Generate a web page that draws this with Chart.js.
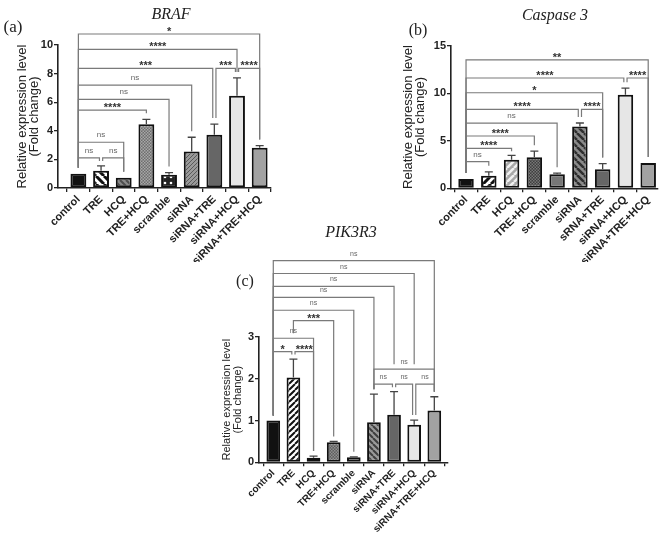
<!DOCTYPE html>
<html><head><meta charset="utf-8">
<script src="https://cdn.jsdelivr.net/npm/chart.js@4.4.1/dist/chart.umd.min.js"></script>
<style>
html,body{margin:0;padding:0;background:#fff;}
#wrap{position:relative;width:669px;height:542px;overflow:hidden;background:#fff;}
canvas{position:absolute;}
.t{position:absolute;font-family:"Liberation Serif","Times New Roman",serif;color:#222;white-space:nowrap;transform:translate(-50%,-50%);line-height:1;}
.i{font-style:italic;}
</style></head><body>
<div id="wrap">
<canvas id="ca" width="285" height="262" style="left:0px;top:0px"></canvas>
<canvas id="cb" width="274" height="262" style="left:395px;top:0px"></canvas>
<canvas id="cc" width="255" height="302" style="left:205px;top:240px"></canvas>
<div class="t" style="left:13px;top:26px;font-size:17px">(a)</div>
<div class="t i" style="left:171px;top:14px;font-size:16px">BRAF</div>
<div class="t" style="left:418px;top:30px;font-size:16px">(b)</div>
<div class="t i" style="left:555px;top:15px;font-size:16px">Caspase 3</div>
<div class="t i" style="left:351px;top:232px;font-size:16px">PIK3R3</div>
<div class="t" style="left:245px;top:281px;font-size:16px">(c)</div>
</div>
<script>
// ---------- data ----------
const categories  = ['control','TRE','HCQ','TRE+HCQ','scramble','siRNA','siRNA+TRE','siRNA+HCQ','siRNA+TRE+HCQ'];
const categoriesB = ['control','TRE','HCQ','TRE+HCQ','scramble','siRNA','sRNA+TRE','siRNA+HCQ','siRNA+TRE+HCQ'];

const brafMean = [1.0, 1.2, 0.72, 4.45, 0.93, 2.55, 3.72, 6.45, 2.82];
const brafErr  = [0, 0.35, 0, 0.35, 0.15, 1.0, 0.75, 1.25, 0.15];
const brafTicks = [0, 2, 4, 6, 8, 10];

const caspMean = [0.97, 1.31, 3.0, 3.26, 1.49, 6.5, 2.0, 9.85, 2.67];
const caspErr  = [0, 0.42, 0.47, 0.64, 0.1, 0.37, 0.6, 0.68, 0];
const caspTicks = [0, 5, 10, 15];

const pikMean = [1.0, 2.03, 0.11, 0.48, 0.12, 0.96, 1.14, 0.9, 1.24];
const pikErr  = [0, 0.44, 0.04, 0.02, 0.01, 0.67, 0.55, 0.11, 0.33];
const pikTicks = [0, 1, 2, 3];

// comparisons: [from, to, bracket height (data units), label]
const brafSig = [[0,1,2.1,'ns'],[1,2,2.1,'ns'],[0,2,3.2,'ns'],[0,3,5.45,'****'],[0,4,6.2,'ns'],[0,5,7.2,'ns'],
  [0,6,8.37,'***'],[6,7,8.37,'***'],[7,8,8.37,'****'],[0,7,9.7,'****'],[0,8,10.77,'*']];
const caspSig = [[0,1,2.8,'ns'],[0,2,4.2,'****'],[0,3,5.5,'****'],[0,4,6.85,'ns'],[0,5,8.3,'****'],[5,6,8.3,'****'],
  [0,6,10.05,'*'],[0,7,11.6,'****'],[7,8,11.6,'****'],[0,8,13.5,'**']];
const pikSig = [[0,1,2.65,'*'],[1,2,2.65,'****'],[0,2,2.97,'ns'],[1,3,3.39,'***'],[0,4,3.64,'ns'],[0,5,3.95,'ns'],
  [0,6,4.21,'ns'],[0,7,4.52,'ns'],[0,8,4.83,'ns'],[5,6,1.87,'ns'],[6,7,1.87,'ns'],[7,8,1.87,'ns'],[5,8,2.23,'ns']];

// ---------- styles ----------
const SANS = '"Liberation Sans", Arial, sans-serif';
function pat(bg, fg, kind, size, lw){
  const c=document.createElement('canvas'); c.width=c.height=size; const g=c.getContext('2d');
  g.fillStyle=bg; g.fillRect(0,0,size,size);
  g.strokeStyle=fg; g.fillStyle=fg; g.lineWidth=lw;
  if(kind==='/'){ g.beginPath(); for(const o of [-size,0,size]){ g.moveTo(o,size); g.lineTo(o+size,0);} g.stroke(); }
  else if(kind==='\\'){ g.beginPath(); for(const o of [-size,0,size]){ g.moveTo(o,0); g.lineTo(o+size,size);} g.stroke(); }
  else if(kind==='check'){ const h=size/2; g.fillRect(0,0,h,h); g.fillRect(h,h,h,h); }
  else if(kind==='dots'){ g.beginPath(); g.arc(size/2,size/2,lw,0,Math.PI*2); g.fill(); }
  return g.createPattern(c,'repeat');
}
const fillsA = ['#111', pat('#fff','#111','\\',8,3), pat('#8a8a8a','#4e4e4e','\\',6,2), pat('#6e6e6e','#a8a8a8','check',3,0),
  pat('#222','#fff','dots',6,1.3), pat('#9a9a9a','#5a5a5a','/',4,1), '#666', '#e6e6e6', '#a2a2a2'];
const fillsB = ['#111', pat('#fff','#111','/',8,3), pat('#a8a8a8','#f0f0f0','/',7,2.5), pat('#3e3e3e','#777','check',3,0),
  '#777', pat('#8a8a8a','#2e2e2e','\\',7,2.5), '#666', '#e6e6e6', '#a2a2a2'];
const fillsC = ['#111', pat('#fff','#111','/',6,2), '#999', pat('#5e5e5e','#8e8e8e','check',3,0),
  '#666', pat('#9a9a9a','#3e3e3e','\\',6,2), '#666', '#e6e6e6', '#a2a2a2'];

function overlay(mean, err, sig, o){
  return { id:'overlay', afterDatasetsDraw(chart){
    const xs=chart.scales.x, ys=chart.scales.y, ctx=chart.ctx;
    ctx.save();
    // error bars (upper only)
    ctx.strokeStyle='#444'; ctx.lineWidth=1.3;
    mean.forEach((m,i)=>{
      if(!err[i]) return;
      const x=xs.getPixelForValue(i), y0=ys.getPixelForValue(m), y1=ys.getPixelForValue(m+err[i]);
      ctx.beginPath(); ctx.moveTo(x,y0); ctx.lineTo(x,y1); ctx.moveTo(x-4,y1); ctx.lineTo(x+4,y1); ctx.stroke();
    });
    // significance brackets
    ctx.strokeStyle='#7a7a7a'; ctx.lineWidth=1.2;
    sig.forEach(([i,j,h,lab],k)=>{
      const same = sig.filter((b,m)=>m!==k && Math.abs(b[2]-h)<1e-6);
      const sl = same.some(b=>b[1]===i) ? 1.6 : 0;
      const sr = same.some(b=>b[0]===j) ? 1.6 : 0;
      const x1=xs.getPixelForValue(i)+sl, x2=xs.getPixelForValue(j)-sr, y=ys.getPixelForValue(h);
      const leg = idx => {
        let b0 = ys.getPixelForValue(mean[idx]+err[idx]) - o.gap;
        sig.forEach(b=>{ if(b[2]<h && b[0]<idx && idx<b[1]) b0=Math.min(b0, ys.getPixelForValue(b[2])-o.gap); });
        return Math.max(b0, y+3);
      };
      ctx.beginPath(); ctx.moveTo(x1,leg(i)); ctx.lineTo(x1,y); ctx.lineTo(x2,y); ctx.lineTo(x2,leg(j)); ctx.stroke();
      const star = lab!=='ns';
      ctx.textAlign='center'; ctx.textBaseline='alphabetic';
      ctx.fillStyle = star ? '#333' : '#666';
      ctx.font = star ? 'bold 11px '+SANS : o.nsSize+'px '+SANS;
      ctx.fillText(lab, (x1+x2)/2, star ? y+1 : y-5);
    });
    ctx.restore();
  }};
}

function make(id, labels, mean, err, sig, fills, ticks, o){
  const n = labels.length;
  new Chart(document.getElementById(id), {
    type:'bar',
    data:{ datasets:[{ data: mean.map((v,i)=>({x:i,y:v})), backgroundColor: fills, borderColor:'#111',
      borderWidth:2, borderSkipped:false, barPercentage:o.barPct, categoryPercentage:1 }]},
    options:{
      responsive:false, animation:false, devicePixelRatio:1,
      layout:{ padding:{ top:o.padTop, right:o.padRight, left:0, bottom:0 } },
      plugins:{ legend:{display:false}, title:{display:false}, tooltip:{enabled:false} },
      scales:{
        x:{ type:'linear', min:o.xmin, max:o.xmax, offset:false,
          afterBuildTicks: s => { s.ticks = labels.map((c,i)=>({value:i})); },
          afterFit: s => { s.height = o.xh; },
          ticks:{ autoSkip:false, minRotation:45, maxRotation:45, padding:1, color:'#222',
            font:{ family:SANS, size:o.xfont, weight:'bold' }, callback: v => labels[v] },
          grid:{ display:true, drawOnChartArea:false, tickLength:4, color:'#222', lineWidth:1.3 },
          border:{ display:true, color:'#222', width:1.6 } },
        y:{ min:0, max:ticks[ticks.length-1],
          afterBuildTicks: s => { s.ticks = ticks.map(v=>({value:v})); },
          afterFit: s => { s.width = o.yw; },
          ticks:{ padding:1, color:'#222', font:{ family:SANS, size:o.yfont, weight:'bold' } },
          grid:{ display:true, drawOnChartArea:false, tickLength:4, color:'#222', lineWidth:1.3 },
          border:{ display:true, color:'#222', width:1.6 },
          title:{ display:true, text:['Relative expression level','(Fold change)'], color:'#222',
            font:{ family:SANS, size:o.tfont, lineHeight:o.tlh }, padding:{ top:o.tpad, bottom:0 } } }
      }
    },
    plugins:[ overlay(mean, err, sig, o) ]
  });
}

make('ca', categories, brafMean, brafErr, brafSig, fillsA, brafTicks,
  { padTop:45, padRight:14, xmin:-0.9, xmax:8.5, xh:74, yw:58, barPct:0.7, xfont:11, yfont:11, tfont:13, tlh:0.92, tpad:16, gap:6, nsSize:8 });
make('cb', categoriesB, caspMean, caspErr, caspSig, fillsB, caspTicks,
  { padTop:45.7, padRight:11, xmin:-0.66, xmax:8.43, xh:73.7, yw:56, barPct:0.68, xfont:11, yfont:11, tfont:13, tlh:0.92, tpad:7, gap:6, nsSize:8 });
make('cc', categories, pikMean, pikErr, pikSig, fillsC, pikTicks,
  { padTop:97, padRight:12, xmin:-0.71, xmax:8.68, xh:79.7, yw:54, barPct:0.68, xfont:10, yfont:11, tfont:11, tlh:1, tpad:16.5, gap:5, nsSize:7 });
</script>
</body></html>
